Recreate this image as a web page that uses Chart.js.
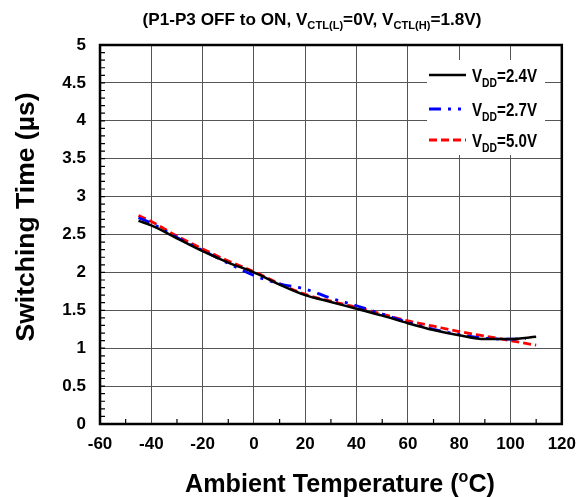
<!DOCTYPE html>
<html>
<head>
<meta charset="utf-8">
<script src="https://cdn.jsdelivr.net/npm/chart.js@4/dist/chart.umd.min.js"></script>
<style>
  html, body { margin: 0; padding: 0; background: #fff; }
  #wrap { width: 586px; height: 497px; }
</style>
</head>
<body>
<div id="wrap"><canvas id="swChart" width="586" height="497"></canvas></div>
<script>
// temperatures (degC) and switching times (us)
const temps   = [-45, -40, -30, -20, -10, 0, 10, 20, 30, 40, 50, 60, 70, 80, 90, 100, 110];
const vdd24   = [2.68, 2.62, 2.45, 2.28, 2.13, 2.00, 1.84, 1.70, 1.61, 1.52, 1.43, 1.33, 1.24, 1.17, 1.12, 1.12, 1.15];
const vdd50   = [2.75, 2.67, 2.48, 2.31, 2.15, 2.01, 1.85, 1.71, 1.62, 1.54, 1.45, 1.36, 1.29, 1.22, 1.16, 1.10, 1.04];
const temps27 = [-45, -40, -30, -20, -10, 0, 10, 20, 30, 40, 50, 60, 70, 80, 90, 100, 106];
const vdd27   = [2.72, 2.65, 2.46, 2.29, 2.12, 1.96, 1.85, 1.78, 1.66, 1.56, 1.45, 1.34, 1.25, 1.18, 1.13, 1.12, 1.13];
const seriesNames = ['2.4V', '2.7V', '5.0V'];

const FONT = 'Liberation Sans, Arial, sans-serif';

function pts(xs, ys) { return xs.map((x, i) => ({ x: x, y: ys[i] })); }

// draws a row of text pieces, some of them sub/superscript; fitW squeezes it to a width
function richText(ctx, parts, x, y, align, fitW) {
    let total = 0;
    parts.forEach(p => { ctx.font = 'bold ' + p.size + 'px ' + FONT; p.w = ctx.measureText(p.t).width; total += p.w; });
    const k = fitW ? fitW / total : 1;
    ctx.save();
    ctx.translate(align === 'center' ? x - total * k / 2 : x, y);
    ctx.scale(k, 1);
    ctx.textBaseline = 'alphabetic';
    ctx.textAlign = 'left';
    let cx = 0;
    parts.forEach(p => {
        ctx.font = 'bold ' + p.size + 'px ' + FONT;
        ctx.fillText(p.t, cx, p.dy || 0);
        cx += p.w;
    });
    ctx.restore();
}

const decorPlugin = {
    id: 'decor',
    afterDraw(chart) {
        const ctx = chart.ctx, a = chart.chartArea;
        const xs = chart.scales.x, ys = chart.scales.y;
        ctx.save();
        ctx.fillStyle = '#000';
        ctx.strokeStyle = '#000';

        // minor ticks, inside
        ctx.lineWidth = 1.2;
        ctx.beginPath();
        for (let v = -50; v < 120; v += 20) {
            const px = xs.getPixelForValue(v);
            ctx.moveTo(px, a.bottom); ctx.lineTo(px, a.bottom - 5);
        }
        for (let v = 0.1; v < 5; v += 0.1) {
            const py = ys.getPixelForValue(v);
            ctx.moveTo(a.left, py); ctx.lineTo(a.left + 5, py);
        }
        ctx.stroke();

        // frame
        ctx.lineWidth = 2.5;
        ctx.strokeRect(a.left, a.top, a.right - a.left, a.bottom - a.top);

        // title
        richText(ctx, [
            { t: '(P1-P3 OFF to ON, V', size: 17 },
            { t: 'CTL(L)', size: 11, dy: 4 },
            { t: '=0V, V', size: 17 },
            { t: 'CTL(H)', size: 11, dy: 4 },
            { t: '=1.8V)', size: 17 }
        ], 312, 25, 'center', 339);

        // x title
        richText(ctx, [
            { t: 'Ambient Temperature (', size: 25 },
            { t: 'o', size: 16, dy: -10 },
            { t: 'C)', size: 25 }
        ], 340, 492, 'center', 310);

        // y title
        ctx.save();
        ctx.translate(34, 217);
        ctx.rotate(-Math.PI / 2);
        richText(ctx, [{ t: 'Switching Time (\u00B5s)', size: 25 }], 0, 0, 'center', 249);
        ctx.restore();

        // legend
        ctx.fillStyle = '#fff';
        ctx.fillRect(427, 60, 118, 95);
        const rows = [
            { y: 75, color: '#000', dash: [], w: 2.5 },
            { y: 109, color: '#0000ff', dash: [12, 7, 3, 7, 3, 7], w: 2.8 },
            { y: 140, color: '#ff0000', dash: [8, 4], w: 2.8 }
        ];
        rows.forEach((r, i) => {
            ctx.strokeStyle = r.color;
            ctx.lineWidth = r.w;
            ctx.setLineDash(r.dash);
            ctx.beginPath();
            ctx.moveTo(429, r.y); ctx.lineTo(466, r.y);
            ctx.stroke();
            ctx.setLineDash([]);
            ctx.fillStyle = '#000';
            richText(ctx, [
                { t: 'V', size: 19 },
                { t: 'DD', size: 13, dy: 5 },
                { t: '=' + seriesNames[i], size: 19 }
            ], 472, r.y + 7, 'left', 65);
        });
        ctx.restore();
    }
};

new Chart(document.getElementById('swChart'), {
    type: 'line',
    data: {
        datasets: [
            { label: 'VDD=2.4V', data: pts(temps, vdd24), borderColor: '#000', borderWidth: 2.5 },
            { label: 'VDD=2.7V', data: pts(temps27, vdd27), borderColor: '#0000ff', borderWidth: 2.8, borderDash: [12, 7, 3, 7, 3, 7] },
            { label: 'VDD=5.0V', data: pts(temps, vdd50), borderColor: '#ff0000', borderWidth: 2.8, borderDash: [8, 4] }
        ]
    },
    options: {
        responsive: false,
        animation: false,
        layout: { padding: { top: 45, right: 24, left: 0, bottom: 0 } },
        elements: { point: { radius: 0 }, line: { tension: 0.4, cubicInterpolationMode: 'monotone', fill: false } },
        plugins: { legend: { display: false }, tooltip: { enabled: false } },
        scales: {
            x: {
                type: 'linear', min: -60, max: 120,
                afterFit(s) { s.height = 73; },
                ticks: { stepSize: 20, padding: 10, color: '#000', font: { family: FONT, size: 17, weight: 'bold' } },
                grid: { color: '#555', lineWidth: 1, drawTicks: false },
                border: { display: false }
            },
            y: {
                min: 0, max: 5,
                afterFit(s) { s.width = 100; },
                ticks: {
                    stepSize: 0.5, padding: 14, color: '#000',
                    font: { family: FONT, size: 17, weight: 'bold' },
                    callback: v => String(Math.round(v * 10) / 10)
                },
                grid: { color: '#555', lineWidth: 1, drawTicks: false },
                border: { display: false }
            }
        }
    },
    plugins: [decorPlugin]
});
</script>
</body>
</html>
